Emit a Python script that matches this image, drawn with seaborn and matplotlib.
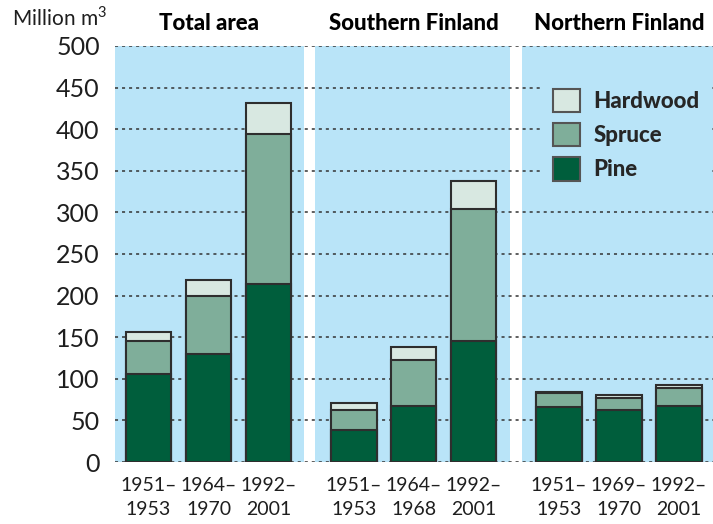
import matplotlib
matplotlib.use("Agg")
import matplotlib.pyplot as plt
import seaborn as sns
from matplotlib.patches import Patch

# data (million m3)
regions = ["Total area", "Southern Finland", "Northern Finland"]
periods = [
    ["1951–\n1953", "1964–\n1970", "1992–\n2001"],
    ["1951–\n1953", "1964–\n1968", "1992–\n2001"],
    ["1951–\n1953", "1969–\n1970", "1992–\n2001"],
]
pine = [106, 130, 213.5, 39, 67, 146, 66, 62.5, 67]
spruce = [40, 70, 181, 23, 56, 158, 16.5, 15, 22]
hardwood = [10.5, 19, 36.5, 9, 15, 33.5, 1.5, 3, 3.5]
species = ["Hardwood", "Spruce", "Pine"]

colors = {"Pine": "#005e3c", "Spruce": "#7fae9a", "Hardwood": "#d8e8e1"}
panel_blue = "#b9e4f8"
edge = "#2e2e2e"
text_col = "#1e1e1e"

sns.set_style("white")
plt.rcParams["font.family"] = ["Lato", "DejaVu Sans"]
plt.rcParams["mathtext.fontset"] = "custom"
plt.rcParams["mathtext.rm"] = "Lato"

# layout: bars 1 unit apart, groups separated by a gap
group_step = 3.42
xpos = [g * group_step + i + 0.56 for g in range(3) for i in range(3)]
spruce_top = [p + s for p, s in zip(pine, spruce)]
total_top = [t + h for t, h in zip(spruce_top, hardwood)]

fig = plt.figure(figsize=(7.13, 5.24), dpi=100)
ax = fig.add_axes([115 / 713, 1 - 462 / 524, 1 - 115 / 713, (462 - 46) / 524])

# blue panels behind each group
for lo, hi in [(0, 3.15), (3.33, 6.58), (6.78, 9.97)]:
    ax.axvspan(lo, hi, color=panel_blue, zorder=0, lw=0)

for vals, name in [(total_top, "Hardwood"), (spruce_top, "Spruce"), (pine, "Pine")]:
    sns.barplot(x=xpos, y=vals, native_scale=True, color=colors[name],
                edgecolor=edge, linewidth=1.5, width=0.76, errorbar=None,
                saturation=1, ax=ax)

ax.set_xlim(0, 9.97)
ax.set_ylim(0, 500)
ax.set_yticks(range(0, 501, 50))
ax.set_axisbelow(True)
ax.yaxis.grid(True, linestyle=(0, (2, 2.6)), color="#333333", lw=1.1)
ax.xaxis.grid(False)
for s in ax.spines.values():
    s.set_visible(False)

ax.set_xticks(xpos)
ax.set_xticklabels([p for grp in periods for p in grp], fontsize=14,
                   color=text_col, linespacing=1.45)
ax.tick_params(axis="x", length=0, pad=11)
ax.tick_params(axis="y", length=0, pad=11, labelsize=18, labelcolor=text_col)
ax.set_xlabel("")
ax.set_ylabel("")

for g, title in enumerate(regions):
    ax.text(xpos[g * 3 + 1], 519, title, ha="center", va="baseline",
            fontsize=16, fontweight="black", color="black", clip_on=False)

fig.text(12 / 713, 1 - 6 / 524, "Million m$^3$", ha="left", va="top", fontsize=15,
         color=text_col)

handles = [Patch(facecolor=colors[n], edgecolor="#555555", lw=1.5, label=n) for n in species]
leg = ax.legend(handles=handles, loc="upper left",
                bbox_to_anchor=(532 / 713, 1 - 68 / 524), bbox_transform=fig.transFigure,
                prop={"weight": "black", "size": 16}, handlelength=1.22, handleheight=1.22,
                labelspacing=0.5, handletextpad=0.6, borderpad=0.45,
                frameon=True, facecolor=panel_blue, edgecolor="none", framealpha=1,
                fancybox=False)

fig.savefig("out.png", dpi=100)
